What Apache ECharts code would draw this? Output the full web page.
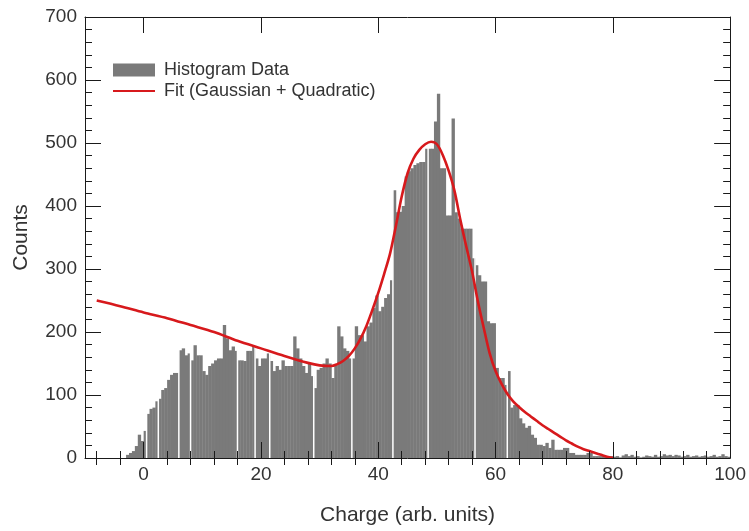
<!DOCTYPE html>
<html>
<head>
<meta charset="utf-8">
<script src="https://cdn.jsdelivr.net/npm/echarts@6.0.0/dist/echarts.min.js"></script>
<style>
  html, body { margin: 0; padding: 0; background: #fff; }
  #chart { width: 749px; height: 531px; }
</style>
</head>
<body>
<div id="chart"></div>
<script>
// histogram: bins of width 0.5 starting at -3.5
const BIN_START = -3.5;
const BIN_WIDTH = 0.5;
const counts = [
  0, 5, 8, 11, 19, 37, 27, 43, 70, 78,
  80, 90, 94, 108, 111, 124, 132, 135, 135, 171,
  174, 163, 166, 155, 179, 163, 163, 138, 132, 146,
  150, 155, 158, 158, 211, 190, 171, 177, 170, 155,
  155, 154, 170, 170, 179, 158, 146, 158, 158, 166,
  154, 138, 146, 140, 155, 146, 146, 146, 193, 174,
  158, 146, 135, 150, 130, 111, 140, 143, 150, 158,
  150, 127, 147, 209, 193, 174, 170, 158, 158, 209,
  195, 195, 185, 209, 215, 238, 258, 233, 240, 254,
  260, 282, 425, 390, 391, 400, 447, 455, 460, 465,
  468, 470, 470, 491, 491, 491, 534, 578, 460, 460,
  385, 385, 539, 390, 380, 364, 364, 364, 364, 317,
  306, 290, 280, 280, 217, 214, 214, 143, 127, 127,
  116, 138, 80, 84, 84, 63, 55, 48, 51, 37,
  32, 21, 21, 19, 24, 16, 29, 13, 13, 13,
  16, 16, 8, 8, 5, 5, 5, 5, 8, 8,
  3, 3, 3, 3, 3, 3, 3, 2, 3, 1,
  4, 6, 3, 5, 2, 3, 1, 2, 4, 3,
  2, 5, 2, 3, 6, 4, 5, 3, 5, 4,
  2, 3, 5, 2, 3, 4, 2, 3, 4, 2,
  3, 5, 2, 3, 6, 3, 2
];

// fit curve (Gaussian + quadratic)
const fitX = [-8, -4, 0, 4, 8, 12, 16, 20, 24, 28, 30, 32, 33, 34, 35, 36, 37, 38, 39, 40,
  41, 42, 43, 44, 45, 46, 47, 48, 49, 50, 51, 52, 53, 54, 55, 56, 57, 58, 59, 60,
  61, 62, 63, 64, 65, 66, 67, 68, 69, 70, 71, 72, 73, 74, 75, 76, 77, 78, 79, 80];
const fitY = [250, 241, 231, 222, 211, 200, 186, 174, 162, 151, 147, 146, 149, 154, 162, 174, 190, 210, 235, 262,
  292, 324, 368, 415, 452, 475, 489, 498, 502, 498, 481, 456, 424, 378, 336, 296, 248, 206, 166, 138,
  118, 102, 90, 81, 73, 66, 59, 52, 46, 40, 34, 28, 23, 18, 14, 11, 8, 5, 2, 0];

// thin white seams visible inside the bars
const gapLines = [0.5, 2.5, 6.0, 8.0, 16.0, 19.0, 21.5, 29.0, 35.5, 42.5, 48.5, 56.5, 62.0];

const xMajorTicks = [0, 20, 40, 60, 80, 100];
const xMinorTicks = [-8, -4, 4, 8, 12, 16, 24, 28, 32, 36, 44, 48, 52, 56, 64, 68, 72, 76, 84, 88, 92, 96];

const FONT = '"Liberation Sans", Arial, sans-serif';
const AXIS_COLOR = '#1a1a1a';
const TEXT_COLOR = '#333';
const BAR_COLOR = '#7a7a7a';
const FIT_COLOR = '#d7191c';

const histData = counts.map((c, i) => [BIN_START + i * BIN_WIDTH, BIN_START + (i + 1) * BIN_WIDTH, c]);
const fitData = fitX.map((x, i) => [x, fitY[i]]);

const chart = echarts.init(document.getElementById('chart'), null, { renderer: 'canvas' });

const xBase = (extra) => Object.assign({
  type: 'value', min: -10, max: 100, z: 10,
  splitLine: { show: false },
  axisLine: { show: false },
  axisLabel: { show: false }
}, extra);

const option = {
  animation: false,
  backgroundColor: '#fff',
  grid: { left: 85, right: 13, top: 17, bottom: 70, containLabel: false },
  legend: {
    orient: 'vertical', left: 107, top: 56,
    itemWidth: 42, itemHeight: 13, itemGap: 3,
    textStyle: { fontFamily: FONT, fontSize: 18, color: TEXT_COLOR, padding: [0, 0, 0, 4] },
    data: [
      { name: 'Histogram Data', icon: 'rect' },
      { name: 'Fit (Gaussian + Quadratic)', itemStyle: { opacity: 0 } }
    ]
  },
  xAxis: [
    xBase({
      position: 'bottom',
      axisLine: { show: true, onZero: false, lineStyle: { color: AXIS_COLOR, width: 1 } },
      axisTick: { inside: true, length: 16, customValues: xMajorTicks, lineStyle: { color: AXIS_COLOR } },
      axisLabel: { show: true, customValues: xMajorTicks, color: TEXT_COLOR, fontSize: 19, fontFamily: FONT, margin: 7 },
      name: 'Charge (arb. units)', nameLocation: 'middle', nameGap: 47,
      nameTextStyle: { fontFamily: FONT, fontSize: 21, color: TEXT_COLOR }
    }),
    xBase({ position: 'bottom', axisTick: { inside: true, length: 7, customValues: xMinorTicks, lineStyle: { color: AXIS_COLOR } } }),
    xBase({
      position: 'top',
      axisLine: { show: true, onZero: false, lineStyle: { color: AXIS_COLOR, width: 1 } },
      axisTick: { inside: true, length: 16, customValues: xMajorTicks, lineStyle: { color: AXIS_COLOR } }
    }),
    xBase({ position: 'top', axisTick: { inside: true, length: 7, customValues: xMinorTicks, lineStyle: { color: AXIS_COLOR } } })
  ],
  yAxis: [
    {
      type: 'value', min: 0, max: 700, interval: 100, position: 'left', z: 10,
      splitLine: { show: false },
      axisLine: { show: true, onZero: false, lineStyle: { color: AXIS_COLOR, width: 1 } },
      axisTick: { inside: true, length: 16, lineStyle: { color: AXIS_COLOR } },
      minorTick: { show: true, splitNumber: 5, length: 7, lineStyle: { color: AXIS_COLOR } },
      axisLabel: { color: TEXT_COLOR, fontSize: 19, fontFamily: FONT, margin: 8 },
      name: 'Counts', nameLocation: 'middle', nameGap: 53, nameRotate: 90,
      nameTextStyle: { fontFamily: FONT, fontSize: 21, color: TEXT_COLOR }
    },
    {
      type: 'value', min: 0, max: 700, interval: 100, position: 'right', z: 10,
      splitLine: { show: false },
      axisLine: { show: true, onZero: false, lineStyle: { color: AXIS_COLOR, width: 1 } },
      axisTick: { inside: true, length: 16, lineStyle: { color: AXIS_COLOR } },
      minorTick: { show: true, splitNumber: 5, length: 7, lineStyle: { color: AXIS_COLOR } },
      axisLabel: { show: false }
    }
  ],
  series: [
    {
      name: 'Histogram Data',
      type: 'custom',
      xAxisIndex: 0, yAxisIndex: 0, z: 2,
      itemStyle: { color: BAR_COLOR },
      encode: { x: [0, 1], y: 2 },
      data: histData,
      renderItem: (params, api) => {
        const p0 = api.coord([api.value(0), 0]);
        const p1 = api.coord([api.value(1), api.value(2)]);
        return {
          type: 'rect',
          shape: { x: p0[0], y: p1[1], width: p1[0] - p0[0] + 0.4, height: p0[1] - p1[1] },
          style: { fill: BAR_COLOR }
        };
      }
    },
    {
      name: 'seams',
      type: 'custom',
      xAxisIndex: 0, yAxisIndex: 0, z: 3,
      silent: true,
      encode: { x: 0 },
      data: gapLines.map(v => [v]),
      renderItem: (params, api) => {
        const a = api.coord([api.value(0), 0]);
        const b = api.coord([api.value(0), 700]);
        return {
          type: 'line',
          shape: { x1: a[0], y1: a[1], x2: b[0], y2: b[1] },
          style: { stroke: '#ffffff', lineWidth: 1.5 }
        };
      }
    },
    {
      name: 'Fit (Gaussian + Quadratic)',
      type: 'line',
      xAxisIndex: 0, yAxisIndex: 0, z: 4,
      data: fitData,
      smooth: 0.3,
      showSymbol: false,
      symbol: 'none',
      itemStyle: { color: FIT_COLOR },
      lineStyle: { color: FIT_COLOR, width: 2.6 }
    }
  ]
};

chart.setOption(option);
</script>
</body>
</html>
